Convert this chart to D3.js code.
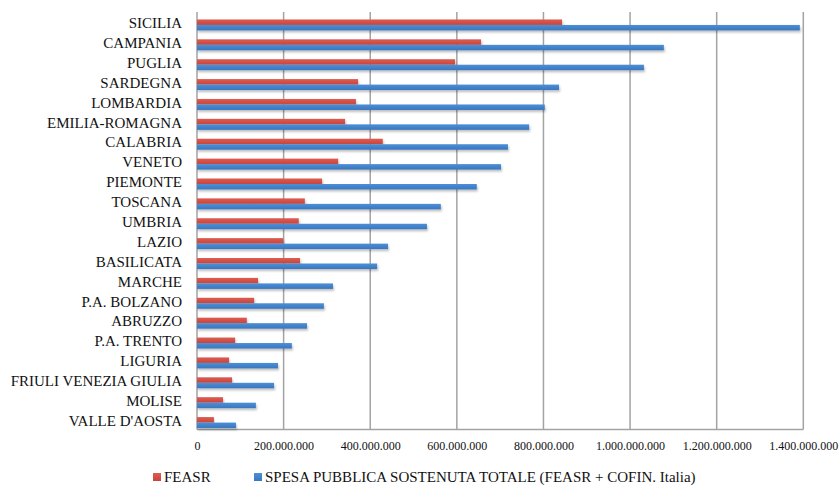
<!DOCTYPE html>
<html>
<head>
<meta charset="utf-8">
<script src="https://cdn.jsdelivr.net/npm/d3@7"></script>
<style>
    body { margin: 0; background: #fff; }
    text { font-family: "Liberation Serif", "Times New Roman", serif; fill: #111; }
</style>
</head>
<body>
<script>
//regions, top to bottom
var regions = ["SICILIA", "CAMPANIA", "PUGLIA", "SARDEGNA", "LOMBARDIA", "EMILIA-ROMAGNA",
    "CALABRIA", "VENETO", "PIEMONTE", "TOSCANA", "UMBRIA", "LAZIO", "BASILICATA", "MARCHE",
    "P.A. BOLZANO", "ABRUZZO", "P.A. TRENTO", "LIGURIA", "FRIULI VENEZIA GIULIA", "MOLISE", "VALLE D'AOSTA"];

//FEASR quota (euro)
var feasr = [843e6, 656e6, 596e6, 372e6, 367e6, 342e6, 429e6, 326e6, 289e6, 249e6, 235e6,
    199e6, 238e6, 141e6, 132e6, 115e6, 88e6, 74e6, 81e6, 60e6, 39e6];

//total public expenditure (euro)
var spesaTotale = [1392e6, 1078e6, 1032e6, 836e6, 803e6, 767e6, 718e6, 702e6, 646e6, 563e6, 531e6,
    441e6, 416e6, 314e6, 293e6, 254e6, 219e6, 187e6, 178e6, 136e6, 90e6];

var seriesNames = ["FEASR", "SPESA PUBBLICA SOSTENUTA TOTALE (FEASR + COFIN. Italia)"];
var tickValues = [0, 200e6, 400e6, 600e6, 800e6, 1000e6, 1200e6, 1400e6];

window.onload = drawChart();

function drawChart() {

    var width = 840,
        height = 486;

    var svg = d3.select("body")
        .append("svg")
        .attr("width", width)
        .attr("height", height);

    //plot area
    var left = 197, right = 803.3, top = 12, bottom = 429.5;

    var x = d3.scaleLinear()
        .domain([0, 1400e6])
        .range([left, right]);

    var y = d3.scaleBand()
        .domain(regions)
        .range([top, bottom]);

    var sub = d3.scaleBand()
        .domain([0, 1])
        .range([0, 11]);

    var colors = [["#de5c52", "#c8443b"], ["#4b90d8", "#3a76bd"]];

    var defs = svg.append("defs");
    colors.forEach(function(c, i){
        var g = defs.append("linearGradient")
            .attr("id", "grad" + i)
            .attr("x1", 0).attr("y1", 0).attr("x2", 0).attr("y2", 1);
        g.append("stop").attr("offset", "0%").attr("stop-color", c[0]);
        g.append("stop").attr("offset", "100%").attr("stop-color", c[1]);
    });
    defs.append("filter")
        .attr("id", "shadow")
        .attr("x", "-5%").attr("y", "-50%").attr("width", "110%").attr("height", "250%")
        .append("feDropShadow")
        .attr("dx", 1).attr("dy", 2).attr("stdDeviation", 1)
        .attr("flood-color", "#000").attr("flood-opacity", 0.25);

    //vertical gridlines
    svg.selectAll(".grid")
        .data(tickValues)
        .enter()
        .append("line")
        .attr("class", "grid")
        .attr("x1", function(d){ return x(d); })
        .attr("x2", function(d){ return x(d); })
        .attr("y1", top)
        .attr("y2", bottom)
        .attr("stroke", "#a3a3a3")
        .attr("stroke-width", 1.5);

    //bottom axis line
    svg.append("line")
        .attr("x1", left).attr("x2", right)
        .attr("y1", bottom).attr("y2", bottom)
        .attr("stroke", "#a3a3a3")
        .attr("stroke-width", 1.5);

    //tick labels
    var fmt = d3.formatLocale({ decimal: ",", thousands: ".", grouping: [3], currency: ["", "€"] }).format(",.0f");
    var xAxis = d3.axisBottom(x)
        .tickValues(tickValues)
        .tickSize(0)
        .tickPadding(0)
        .tickFormat(fmt);
    var ax = svg.append("g")
        .attr("transform", "translate(0," + 450 + ")")
        .call(xAxis);
    ax.select(".domain").remove();
    ax.selectAll("text")
        .attr("dy", 0)
        .style("font-family", "Liberation Serif, serif")
        .style("font-size", "12px")
        .attr("fill", "#111");

    //bars
    var series = [feasr, spesaTotale];
    var barShift = 3;
    series.forEach(function(vals, s){
        svg.selectAll(".bar" + s)
            .data(regions)
            .enter()
            .append("rect")
            .attr("class", "bar" + s)
            .attr("x", left)
            .attr("y", function(d){ return y(d) + y.bandwidth() / 2 - 5.5 + barShift + sub(s); })
            .attr("width", function(d, i){ return x(vals[i]) - left; })
            .attr("height", sub.bandwidth())
            .attr("fill", "url(#grad" + s + ")")
            .attr("filter", "url(#shadow)");
    });

    //category labels
    svg.selectAll(".label")
        .data(regions)
        .enter()
        .append("text")
        .attr("class", "label")
        .attr("x", 182)
        .attr("y", function(d){ return y(d) + y.bandwidth() / 2 + 1; })
        .attr("dy", "0.35em")
        .attr("text-anchor", "end")
        .style("font-size", "15px")
        .text(function(d){ return d; });

    //legend
    var legendX = [153, 254];
    var legend = svg.selectAll(".legend")
        .data(seriesNames)
        .enter()
        .append("g")
        .attr("class", "legend")
        .attr("transform", function(d, i){ return "translate(" + legendX[i] + ",473)"; });
    legend.append("rect")
        .attr("width", 8)
        .attr("height", 8)
        .attr("fill", function(d, i){ return "url(#grad" + i + ")"; });
    legend.append("text")
        .attr("x", 11)
        .attr("y", 9)
        .style("font-size", "15px")
        .text(function(d){ return d; });
}
</script>
</body>
</html>
